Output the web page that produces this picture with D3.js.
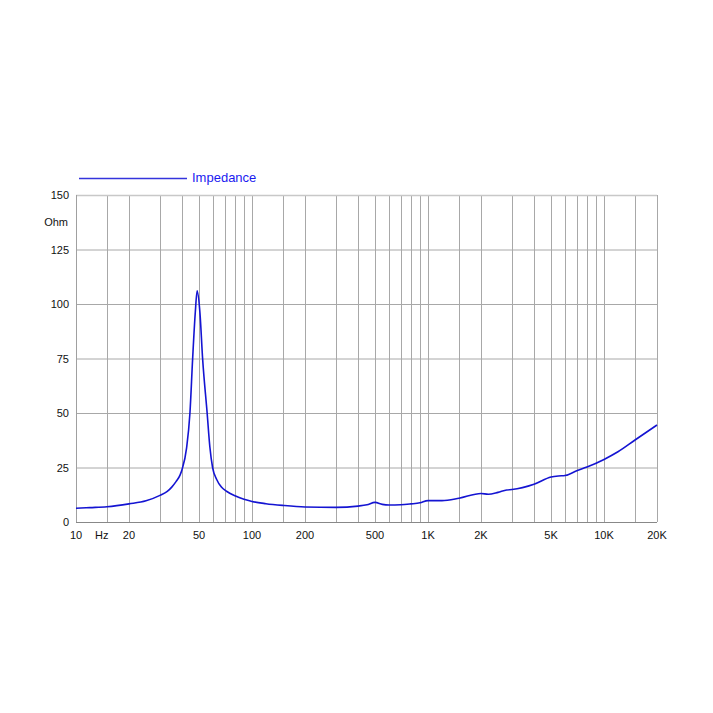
<!DOCTYPE html>
<html><head><meta charset="utf-8">
<script src="https://cdn.jsdelivr.net/npm/d3@7"></script>
<style>body{margin:0;background:#fff}text{font-family:"Liberation Sans",Arial,sans-serif}</style>
</head><body><svg id="c" width="713" height="713"></svg>
<script>
const freqs = [10,12,15,20,25,30,33,35,37,39,40,42.5,44.4,46,47.6,48.8,50.6,52.4,55.6,57.6,59.7,63,67,72,80,90,100,120,150,200,300,400,450,500,550,600,700,800,900,1000,1200,1500,2000,2200,2500,2800,3000,4000,5000,5500,6000,7000,8000,10000,12000,15000,20000];
const ohms  = [6.3,6.6,7.0,8.3,9.7,12.2,14,16,18.5,21.5,24,34,50,75,96,106,96,75,50,34.5,25,19.5,16,14,12,10.4,9.4,8.4,7.6,6.9,6.7,7.3,7.9,9.0,8.1,7.8,7.9,8.3,8.8,9.8,9.8,10.9,13.1,12.7,13.6,14.7,14.9,17.3,20.6,21.1,21.3,23.5,25.2,28.7,32.2,37.6,44.5];
const yTicks = [0,25,50,75,100,125,150];
const xGrid = [15,20,30,40,50,60,70,80,90,100,150,200,300,400,500,600,700,800,900,1000,1500,2000,3000,4000,5000,6000,7000,8000,9000,10000,15000,20000];
const xLabels = [[10,"10"],[14,"Hz"],[20,"20"],[50,"50"],[100,"100"],[200,"200"],[500,"500"],[1000,"1K"],[2000,"2K"],[5000,"5K"],[10000,"10K"],[20000,"20K"]];
const seriesName = "Impedance";

const svg = d3.select("#c");
const L=76,R=657,T=195,B=522;
const x = d3.scaleLog().domain([10,20000]).range([L,R]);
const y = d3.scaleLinear().domain([0,150]).range([B,T]);
const col = "#1414d2";

const g = svg.append("g");
g.selectAll(".hg").data(yTicks.filter(d=>d>0&&d<150)).join("line")
 .attr("x1",L).attr("x2",R).attr("y1",d=>y(d)+0.5).attr("y2",d=>y(d)+0.5)
 .attr("stroke","#a8a8a8").attr("stroke-width",1);
g.selectAll(".vg").data(xGrid).join("line")
 .attr("x1",d=>Math.round(x(d))+0.5).attr("x2",d=>Math.round(x(d))+0.5).attr("y1",T).attr("y2",B)
 .attr("stroke","#a8a8a8").attr("stroke-width",1);
// frame
g.append("line").attr("x1",L).attr("x2",R).attr("y1",T+0.5).attr("y2",T+0.5).attr("stroke","#c8c8c8").attr("stroke-width",1.5);
g.append("line").attr("x1",L+0.5).attr("x2",L+0.5).attr("y1",T).attr("y2",B).attr("stroke","#a0a0a0");
g.append("line").attr("x1",L).attr("x2",R).attr("y1",B+0.5).attr("y2",B+0.5).attr("stroke","#888");

// y labels
g.selectAll(".yl").data(yTicks).join("text")
 .attr("x",69).attr("y",d=>y(d)+4).attr("text-anchor","end").attr("font-size",11).attr("fill","#111").text(d=>d);
g.append("text").attr("x",68).attr("y",226).attr("text-anchor","end").attr("font-size",11).attr("fill","#111").text("Ohm");
// x labels
g.selectAll(".xl").data(xLabels).join("text")
 .attr("x",d=>x(d[0])).attr("y",539).attr("text-anchor","middle").attr("font-size",11).attr("fill","#111").text(d=>d[1]);

// curve
const line = d3.line().x((d,i)=>x(freqs[i])).y(d=>y(d)).curve(d3.curveMonotoneX);
g.append("path").attr("d",line(ohms)).attr("fill","none").attr("stroke",col).attr("stroke-width",1.6);

// legend
g.append("line").attr("x1",79).attr("x2",187).attr("y1",178.5).attr("y2",178.5).attr("stroke","#3434dc").attr("stroke-width",1.6);
g.append("text").attr("x",192).attr("y",182).attr("font-size",13).attr("fill","#1a1af0").text(seriesName);
</script></body></html>
